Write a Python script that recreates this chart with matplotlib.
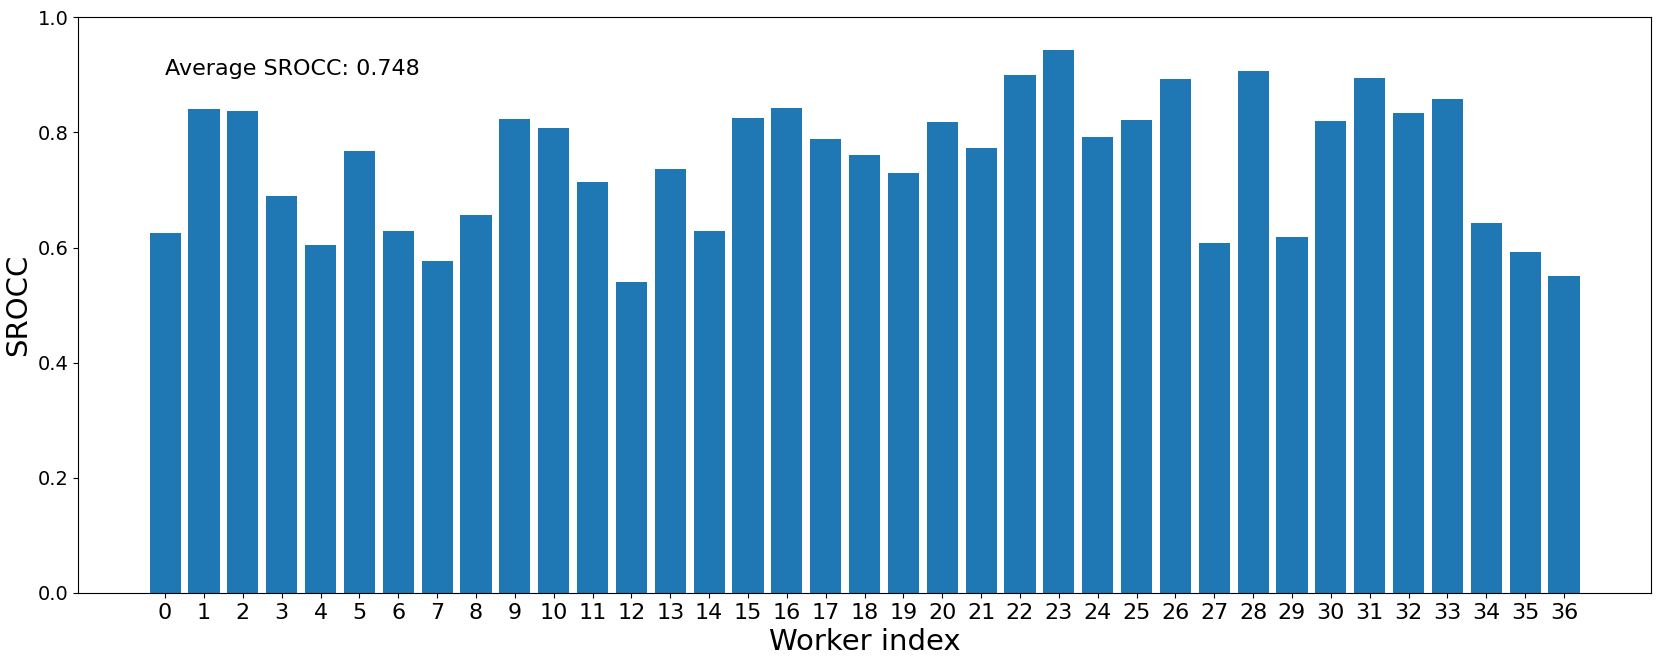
import matplotlib
matplotlib.use("Agg")
import matplotlib.pyplot as plt

# SROCC per worker
workers = list(range(37))
srocc = [0.626, 0.840, 0.838, 0.690, 0.604, 0.768, 0.628, 0.576, 0.657, 0.823,
         0.808, 0.714, 0.541, 0.737, 0.628, 0.825, 0.842, 0.788, 0.761, 0.729,
         0.818, 0.773, 0.900, 0.943, 0.792, 0.821, 0.893, 0.608, 0.906, 0.619,
         0.820, 0.895, 0.834, 0.858, 0.643, 0.593, 0.551]
avg_label = "Average SROCC: 0.748"

fig = plt.figure(figsize=(16.61, 6.64), dpi=100)
ax = fig.add_axes([0.047, 0.107, 0.947, 0.867])

ax.bar(workers, srocc, color="#1f77b4")
ax.set_ylim(0, 1.0)
ax.set_xticks(workers)
ax.tick_params(axis="x", labelsize=16)
ax.tick_params(axis="y", labelsize=14)
ax.set_xlabel("Worker index", fontsize=21)
ax.set_ylabel("SROCC", fontsize=21)
ax.text(0, 0.9, avg_label, fontsize=16)

fig.savefig("out.png", dpi=100)
